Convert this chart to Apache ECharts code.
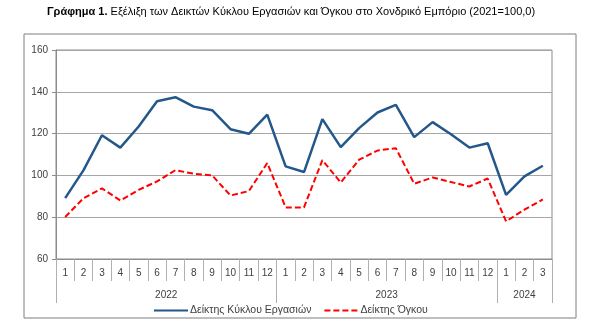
<!DOCTYPE html>
<html><head><meta charset="utf-8">
<script src="https://cdn.jsdelivr.net/npm/echarts@6/dist/echarts.min.js"></script>
<style>html,body{margin:0;padding:0;background:#fff}#c{width:600px;height:328px}</style>
</head><body><div id="c"></div>
<script>
const months = ['1','2','3','4','5','6','7','8','9','10','11','12','1','2','3','4','5','6','7','8','9','10','11','12','1','2','3'];
const years = ['2022','2023','2024'];
const yearSpans = [12,12,3];
const turnover = [89.1,102.5,119.2,113.3,123.4,135.5,137.4,132.9,131.2,122.1,119.9,129.1,104.3,101.6,126.9,113.5,122.6,130.1,133.7,118.3,125.5,119.7,113.3,115.4,90.7,99.5,104.6];
const volume = [80.1,89.1,93.8,88.0,93.1,97.1,102.5,100.8,100.0,90.4,92.5,105.9,84.7,84.7,107.3,96.6,107.5,111.9,113.0,96.0,99.0,96.8,94.7,98.5,78.0,83.6,88.5];
const seriesNames = ['Δείκτης Κύκλου Εργασιών','Δείκτης Όγκου'];

const yearTicks=[0], yearLabelPos=[], yearLabelMap={};
let acc=0;
yearSpans.forEach((s,i)=>{ const mid=acc+s/2; yearLabelPos.push(mid); yearLabelMap[mid]=years[i]; acc+=s; yearTicks.push(acc); });

const font = 'Liberation Sans, Arial, sans-serif';
const chart = echarts.init(document.getElementById('c'));
chart.setOption({
  animation:false,
  textStyle:{fontFamily:font},
  graphic:[
    {type:'rect', shape:{x:24,y:34,width:552,height:284}, style:{fill:'none',stroke:'#7f7f7f',lineWidth:1}, z:-1},
    {type:'text', left:47, top:6, style:{
      text:'{b|Γράφημα 1.} Εξέλιξη των Δεικτών Κύκλου Εργασιών και Όγκου στο Χονδρικό Εμπόριο (2021=100,0)',
      rich:{b:{fontWeight:'bold',fontSize:11,fontFamily:font,fill:'#000'}},
      fontSize:11, fontFamily:font, fill:'#000'}}
  ],
  grid:{left:56,right:48,top:50,bottom:69,show:true,borderColor:'#8c8c8c',borderWidth:1},
  legend:{top:300,left:148,itemWidth:34,itemHeight:10,itemGap:12,
    itemStyle:{opacity:0},
    textStyle:{fontSize:10.5,color:'#404040',fontFamily:font,padding:[0,0,0,-3]},
    data:seriesNames},
  xAxis:[
    {type:'category',data:months,boundaryGap:true,
     axisLine:{show:true,lineStyle:{color:'#8c8c8c'}},
     axisTick:{show:true,interval:0,length:22,lineStyle:{color:'#b0b0b0'}},
     axisLabel:{interval:0,margin:9,fontSize:10,color:'#404040'}},
    {type:'value',min:0,max:27,position:'bottom',
     axisLine:{show:false},splitLine:{show:false},
     axisTick:{show:true,length:44,customValues:yearTicks,lineStyle:{color:'#b0b0b0'}},
     axisLabel:{customValues:yearLabelPos,margin:31,fontSize:10,color:'#404040',
       formatter:v=>yearLabelMap[v]||''}}
  ],
  yAxis:{type:'value',min:60,max:160,interval:20,
    axisLine:{show:true,lineStyle:{color:'#8c8c8c'}},
    axisTick:{show:true,length:4,lineStyle:{color:'#8c8c8c'}},
    axisLabel:{fontSize:10,color:'#404040',margin:8},
    splitLine:{lineStyle:{color:'#a6a6a6',width:1}}},
  series:[
    {name:seriesNames[0],type:'line',xAxisIndex:0,data:turnover,symbol:'none',
     lineStyle:{color:'#24578a',width:2.5},itemStyle:{color:'#24578a'}},
    {name:seriesNames[1],type:'line',xAxisIndex:0,data:volume,symbol:'none',
     lineStyle:{color:'#ff0000',width:2,type:[6,3]},itemStyle:{color:'#ff0000'}}
  ]
});
</script></body></html>
